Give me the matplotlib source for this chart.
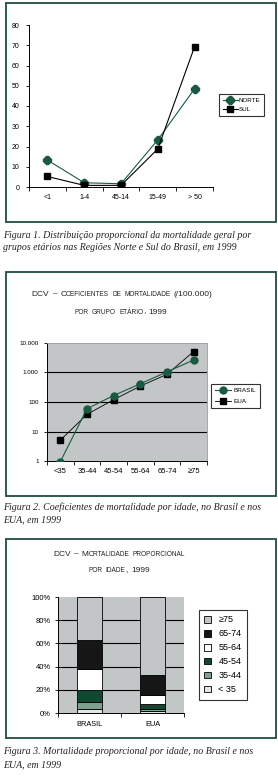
import numpy as np
import matplotlib
matplotlib.use("Agg")
import matplotlib.pyplot as plt
from matplotlib.patches import Rectangle, Patch
from matplotlib.offsetbox import TextArea, HPacker, AnnotationBbox

# ---------------- data ----------------
fig1_groups = ["<1", "1-4", "45-14", "15-49", "> 50"]
fig1_norte = [13.3, 2.1, 1.6, 23.3, 48.5]
fig1_sul = [5.2, 0.8, 0.8, 18.8, 69.3]

fig2_groups = ["<35", "35-44", "45-54", "55-64", "65-74", "≥75"]
fig2_brasil = [0.95, 59, 166, 415, 1050, 2650]
fig2_eua = [5.1, 38, 120, 345, 870, 5150]

fig3_countries = ["BRASIL", "EUA"]
fig3_groups = ["< 35", "35-44", "45-54", "55-64", "65-74", "≥75"]
fig3_brasil = [3.4, 5.8, 10.6, 17.9, 25.2, 37.1]
fig3_eua = [1.6, 1.6, 4.3, 8.0, 17.3, 67.2]

captions = [
    ["Figura 1. Distribuição proporcional da mortalidade geral por",
     "grupos etários nas Regiões Norte e Sul do Brasil, em 1999"],
    ["Figura 2. Coeficientes de mortalidade por idade, no Brasil e nos",
     "EUA, em 1999"],
    ["Figura 3. Mortalidade proporcional por idade, no Brasil e nos",
     "EUA, em 1999"],
]

# ---------------- style ----------------
W, H = 278, 777
BORDER = "#1f4d3b"
GREEN = "#1b5a40"
GRAY = "#c3c6c6"
DKGREEN = "#0f4a30"
MIDGREEN = "#7fa08f"
LIGHT = "#e4e6e6"
plt.rcParams["font.family"] = ["Liberation Sans", "DejaVu Sans"]

fig = plt.figure(figsize=(W / 100, H / 100), dpi=100)
fig.patch.set_facecolor("white")


def ax_px(l, t, r, b):
    return fig.add_axes([l / W, 1 - b / H, (r - l) / W, (b - t) / H])


def border(l, t, r, b):
    fig.patches.append(Rectangle((l / W, 1 - b / H), (r - l) / W, (b - t) / H,
                                 transform=fig.transFigure, fill=False,
                                 ec=BORDER, lw=1.3))


def smallcaps(s, x, y, big=6.0, small=4.7, space=2.2):
    words = []
    for w in s.split(" "):
        runs = []
        for ch in w:
            if ch.islower():
                sz, c = small, ch.upper()
            else:
                sz, c = big, ch
            if runs and runs[-1][1] == sz:
                runs[-1][0] += c
            else:
                runs.append([c, sz])
        kids = [TextArea(t, textprops=dict(fontsize=sz, color="#222222"))
                for t, sz in runs]
        words.append(HPacker(children=kids, align="baseline", pad=0, sep=0))
    box = HPacker(children=words, align="baseline", pad=0, sep=space)
    ab = AnnotationBbox(box, (x / W, 1 - y / H), xycoords="figure fraction",
                        frameon=False, box_alignment=(0.5, 0.5), pad=0)
    fig.add_artist(ab)


# ---------------- panel 1 ----------------
border(6, 3, 276, 222)
ax1 = ax_px(29, 25, 213, 187)
x1 = np.arange(len(fig1_groups))
ax1.plot(x1, fig1_norte, color=GREEN, marker="8", ms=5.5, lw=0.8,
         mfc=GREEN, mec=GREEN, label="NORTE")
ax1.plot(x1, fig1_sul, color="black", marker="s", ms=4.8, lw=0.8,
         label="SUL")
ax1.set_xlim(-0.5, len(fig1_groups) - 0.5)
ax1.set_ylim(0, 80)
ax1.set_yticks(np.arange(0, 81, 10))
ax1.tick_params(axis="y", length=2, width=0.6, labelsize=5, pad=5)
ax1.set_xticks(x1)
ax1.set_xticklabels(fig1_groups)
ax1.set_xticks(np.arange(-0.5, len(fig1_groups)), minor=True)
ax1.tick_params(axis="x", which="major", length=0, labelsize=5, pad=5)
ax1.tick_params(axis="x", which="minor", length=3, width=0.6)
for s in ["top", "right"]:
    ax1.spines[s].set_visible(False)
for s in ["left", "bottom"]:
    ax1.spines[s].set_linewidth(0.7)
leg1 = ax1.legend(loc="upper left", bbox_to_anchor=(219 / W, 1 - 94 / H),
                  bbox_transform=fig.transFigure, borderaxespad=0,
                  fontsize=4.5, frameon=True, fancybox=False, edgecolor="black",
                  handlelength=2.4, handletextpad=0.15, borderpad=0.6,
                  labelspacing=0.55)
leg1.get_frame().set_linewidth(0.8)

# ---------------- panel 2 ----------------
border(6, 272, 276, 496)
smallcaps("DCV – Coeficientes de mortalidade (/100.000)", 122, 294)
smallcaps("por grupo etário, 1999", 121, 312)
ax2 = ax_px(47, 343, 207, 461)
ax2.set_facecolor(GRAY)
x2 = np.arange(len(fig2_groups))
for v in [10, 100, 1000]:
    ax2.axhline(v, color="black", lw=0.8, zorder=1)
ax2.plot(x2, fig2_eua, color="black", marker="s", ms=4, lw=0.6,
         label="EUA", zorder=3)
ax2.plot(x2, fig2_brasil, color=GREEN, marker="o", ms=5, lw=0.8,
         mfc=GREEN, mec=GREEN, label="BRASIL", zorder=4)
ax2.set_yscale("log")
ax2.set_ylim(1, 10000)
ax2.set_xlim(-0.5, len(fig2_groups) - 0.5)
ax2.set_yticks([1, 10, 100, 1000, 10000])
ax2.set_yticklabels(["1", "10", "100", "1.000", "10.000"])
ax2.yaxis.set_minor_locator(matplotlib.ticker.NullLocator())
ax2.tick_params(axis="y", length=2, width=0.6, labelsize=4.5, pad=4)
ax2.set_xticks(x2)
ax2.set_xticklabels(fig2_groups)
ax2.set_xticks(np.arange(-0.5, len(fig2_groups)), minor=True)
ax2.tick_params(axis="x", which="major", length=0, labelsize=5.5, pad=5)
ax2.tick_params(axis="x", which="minor", length=3, width=0.6)
for s in ["top", "right"]:
    ax2.spines[s].set_color("#9a9a9a")
    ax2.spines[s].set_linewidth(0.6)
for s in ["left", "bottom"]:
    ax2.spines[s].set_linewidth(0.7)
h, l = ax2.get_legend_handles_labels()
leg2 = ax2.legend(h[::-1], l[::-1], loc="upper left",
                  bbox_to_anchor=(211 / W, 1 - 384 / H),
                  bbox_transform=fig.transFigure, borderaxespad=0,
                  fontsize=4.6, frameon=True, fancybox=False, edgecolor="black",
                  handlelength=2.6, handletextpad=0.3, borderpad=0.6,
                  labelspacing=0.8)
leg2.get_frame().set_linewidth(0.8)

# ---------------- panel 3 ----------------
border(6, 539, 276, 738)
smallcaps("DCV – Mortalidade proporcional", 119, 554)
smallcaps("por idade, 1999", 119, 571)
ax3 = ax_px(58, 597, 184, 713)
ax3.set_facecolor(GRAY)
for v in [20, 40, 60, 80]:
    ax3.axhline(v, color="black", lw=0.8, zorder=1)
seg_colors = [LIGHT, MIDGREEN, DKGREEN, "white", "#161616", GRAY]
x3 = np.arange(len(fig3_countries))
bottoms = np.zeros(len(fig3_countries))
for i, g in enumerate(fig3_groups):
    vals = np.array([fig3_brasil[i], fig3_eua[i]])
    ax3.bar(x3, vals, 0.4, bottom=bottoms, color=seg_colors[i],
            edgecolor="black", lw=0.6, zorder=2)
    bottoms += vals
ax3.set_xlim(-0.5, 1.5)
ax3.set_ylim(0, 100)
ax3.set_yticks(np.arange(0, 101, 20))
ax3.set_yticklabels([f"{v}%" for v in range(0, 101, 20)])
ax3.tick_params(axis="y", length=2, width=0.6, labelsize=5.5, pad=3)
ax3.set_xticks(x3)
ax3.set_xticklabels(fig3_countries)
ax3.set_xticks([-0.5, 0.5, 1.5], minor=True)
ax3.tick_params(axis="x", which="major", length=0, labelsize=5.3, pad=6)
ax3.tick_params(axis="x", which="minor", length=3, width=0.6)
for s in ["top", "right"]:
    ax3.spines[s].set_visible(False)
for s in ["left", "bottom"]:
    ax3.spines[s].set_linewidth(0.7)
handles3 = [Patch(facecolor=seg_colors[i], edgecolor="black", lw=0.6,
                  label=fig3_groups[i]) for i in range(len(fig3_groups))][::-1]
leg3 = ax3.legend(handles=handles3, loc="upper left",
                  bbox_to_anchor=(199 / W, 1 - 610 / H),
                  bbox_transform=fig.transFigure, borderaxespad=0,
                  fontsize=6.5, frameon=True, fancybox=False, edgecolor="black",
                  handlelength=0.75, handleheight=0.75, handletextpad=0.8,
                  borderpad=0.6, labelspacing=0.55)
leg3.get_frame().set_linewidth(0.8)

# ---------------- captions ----------------
cap_pos = [(236, 248), (507, 520), (751, 765)]
renderer = fig.canvas.get_renderer()
probe = fig.text(0, 0, captions[0][0], family="Liberation Serif",
                 style="italic", fontsize=10)
wpx = probe.get_window_extent(renderer).width
probe.remove()
cap_size = 10 * 248 / wpx
for lines, ys in zip(captions, cap_pos):
    for txt, y in zip(lines, ys):
        fig.text(3 / W, 1 - y / H, txt, family="Liberation Serif",
                 style="italic", fontsize=cap_size, va="center", ha="left",
                 color="#222222")

fig.savefig("out.png", dpi=100)
